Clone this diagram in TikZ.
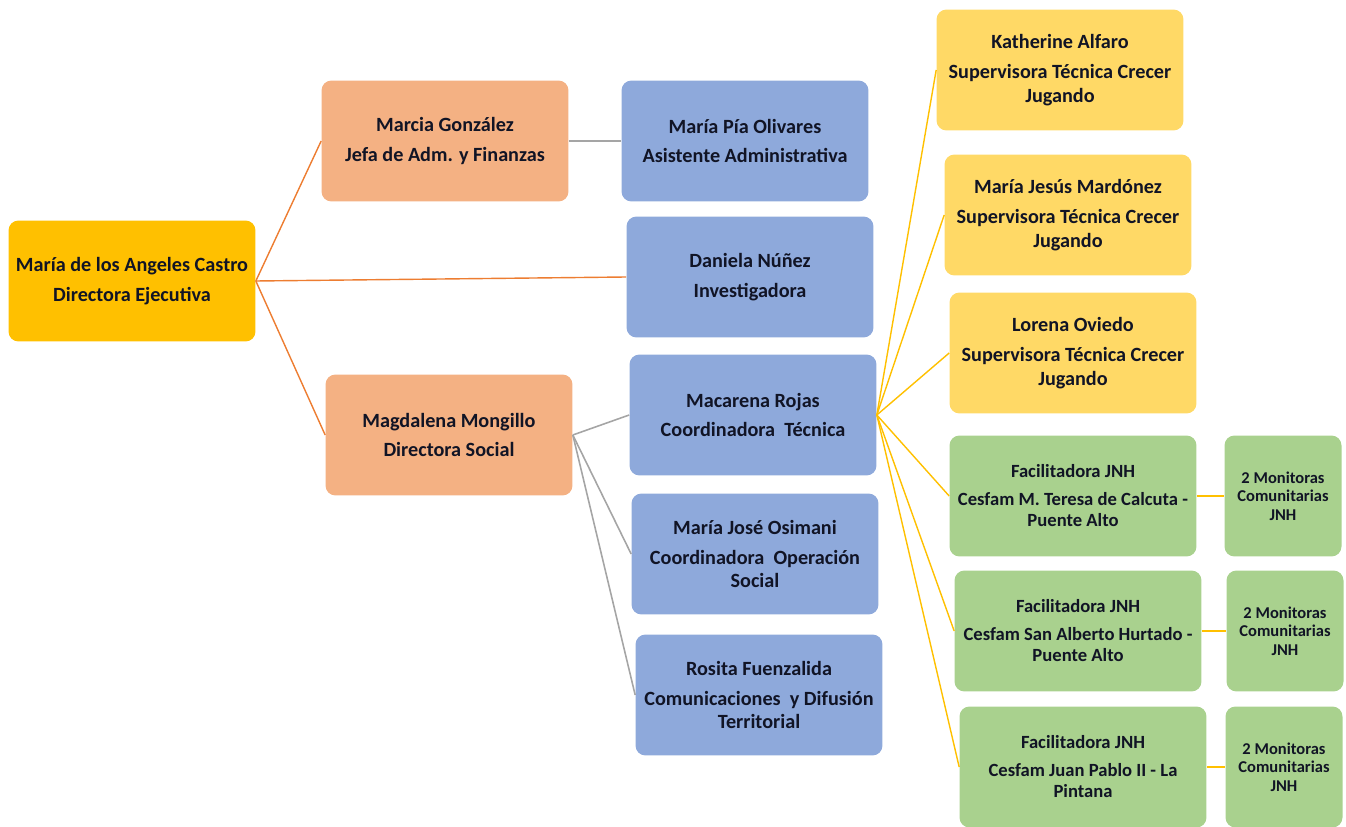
\documentclass[tikz,border=0pt]{standalone}
\usepackage{fontspec}
\setmainfont{Carlito}
\definecolor{rootfill}{HTML}{FFC000}
\definecolor{headfill}{HTML}{F4B183}
\definecolor{staffill}{HTML}{8EA9DB}
\definecolor{supfill}{HTML}{FFD966}
\definecolor{jnhfill}{HTML}{A9D18E}
\definecolor{textdark}{HTML}{111425}
\definecolor{orangeline}{HTML}{ED7D31}
\definecolor{grayline}{HTML}{A5A5A5}
\definecolor{yellowline}{HTML}{FFC000}
\tikzset{
  box/.style={rectangle, rounded corners=0.2cm, minimum width=4.94cm, minimum height=2.42cm,
    inner sep=0pt, align=center, text=textdark, font=\fontsize{11.5}{13.5}\selectfont\bfseries},
  jnhbox/.style={box, fill=jnhfill, font=\fontsize{10.6}{12.2}\selectfont\bfseries},
  smallbox/.style={box, fill=jnhfill, minimum width=2.34cm, font=\fontsize{9.4}{10.5}\selectfont\bfseries},
  tolead/.style={orangeline, line width=0.8pt},
  tostaff/.style={grayline, line width=0.9pt},
  tosup/.style={yellowline, line width=0.8pt}
}
\begin{document}
\begin{tikzpicture}[x=0.02cm, y=-0.02cm]
\useasboundingbox (0,0) rectangle (1346,827);

% direction
\node[box, fill=rootfill] (castro) at (132,281) {María de los Angeles Castro\\[3.5pt]Directora Ejecutiva};
\node[box, fill=headfill] (gonzalez) at (445,141) {Marcia González\\[3.5pt]Jefa de Adm. y Finanzas};
\node[box, fill=headfill] (mongillo) at (449,435) {Magdalena Mongillo\\[3.5pt]Directora Social};

% staff
\node[box, fill=staffill] (olivares) at (745,141) {María Pía Olivares\\[3.5pt]Asistente Administrativa};
\node[box, fill=staffill] (nunez) at (750,277) {Daniela Núñez\\[3.5pt]Investigadora};
\node[box, fill=staffill] (rojas) at (753,415) {Macarena Rojas\\[3.5pt]Coordinadora\ \ Técnica};
\node[box, fill=staffill] (osimani) at (755,554) {María José Osimani\\[3.5pt]Coordinadora\ \ Operación\\Social};
\node[box, fill=staffill] (fuenzalida) at (759,695) {Rosita Fuenzalida\\[3.5pt]Comunicaciones\ \ y Difusión\\Territorial};

% supervisoras
\node[box, fill=supfill] (alfaro) at (1060,70) {Katherine Alfaro\\[3.5pt]Supervisora Técnica Crecer\\Jugando};
\node[box, fill=supfill] (mardonez) at (1068,215) {María Jesús Mardónez\\[3.5pt]Supervisora Técnica Crecer\\Jugando};
\node[box, fill=supfill] (oviedo) at (1073,353) {Lorena Oviedo\\[3.5pt]Supervisora Técnica Crecer\\Jugando};

% facilitadoras JNH
\node[jnhbox] (calcuta) at (1073,496) {Facilitadora JNH\\[3.5pt]Cesfam M. Teresa de Calcuta -\\Puente Alto};
\node[jnhbox] (hurtado) at (1078,631) {Facilitadora JNH\\[3.5pt]Cesfam San Alberto Hurtado -\\Puente Alto};
\node[jnhbox] (pablo) at (1083,767) {Facilitadora JNH\\[3.5pt]Cesfam Juan Pablo II - La\\Pintana};
\node[smallbox] (moncalcuta) at (1283,496) {2 Monitoras\\Comunitarias\\JNH};
\node[smallbox] (monhurtado) at (1285,631) {2 Monitoras\\Comunitarias\\JNH};
\node[smallbox] (monpablo) at (1284,767) {2 Monitoras\\Comunitarias\\JNH};

% lines
\draw[tolead] (castro.east) -- (gonzalez.west);
\draw[tolead] (castro.east) -- (nunez.west);
\draw[tolead] (castro.east) -- (mongillo.west);

\draw[tostaff] (gonzalez.east) -- (olivares.west);
\draw[tostaff] (mongillo.east) -- (rojas.west);
\draw[tostaff] (mongillo.east) -- (osimani.west);
\draw[tostaff] (mongillo.east) -- (fuenzalida.west);

\draw[tosup] (rojas.east) -- (alfaro.west);
\draw[tosup] (rojas.east) -- (mardonez.west);
\draw[tosup] (rojas.east) -- (oviedo.west);
\draw[tosup] (rojas.east) -- (calcuta.west);
\draw[tosup] (rojas.east) -- (hurtado.west);
\draw[tosup] (rojas.east) -- (pablo.west);

\draw[tosup] (calcuta.east) -- (moncalcuta.west);
\draw[tosup] (hurtado.east) -- (monhurtado.west);
\draw[tosup] (pablo.east) -- (monpablo.west);

\end{tikzpicture}
\end{document}
